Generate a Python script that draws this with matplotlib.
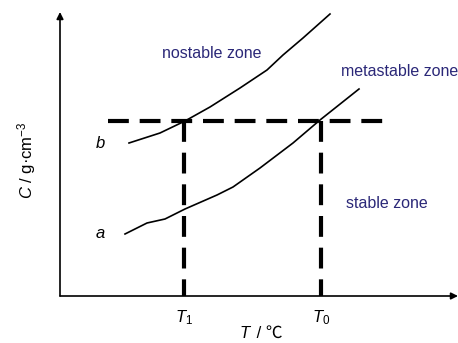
import matplotlib.pyplot as plt

curva_b_x = [129, 160, 185, 210, 240, 267, 283, 303, 330]
curva_b_y = [143, 133, 121, 107, 88, 70, 55, 38, 14]
curva_a_x = [125, 147, 165, 185, 217, 233, 260, 293, 320, 359]
curva_a_y = [234, 223, 219, 209, 195, 187, 168, 143, 120, 89]

c_nivel = 121          # linea horizontal discontinua
t1, t0 = 184, 321      # temperaturas T1 y T0
origen = (60, 296)

etiquetas_zona = ["nostable zone", "metastable zone", "stable zone"]
pos_zona = [(212, 53), (400, 71), (387, 203)]
color_zona = "#2b2878"

plt.rcParams['font.family'] = ['Liberation Sans', 'Noto Sans CJK SC', 'DejaVu Sans']
plt.rcParams['mathtext.fontset'] = 'custom'
plt.rcParams['mathtext.rm'] = 'Liberation Sans'
plt.rcParams['mathtext.it'] = 'Liberation Sans:italic'

fig = plt.figure(figsize=(4.58, 3.43), dpi=100)
ax = fig.add_axes([0, 0, 1, 1])
ax.set_xlim(0, 458)
ax.set_ylim(343, 0)
ax.axis('off')

# ejes con flechas
ax.annotate('', xy=(origen[0], 12), xytext=origen,
            arrowprops=dict(arrowstyle='-|>', color='black', lw=1.2,
                            mutation_scale=10, shrinkA=0, shrinkB=0))
ax.annotate('', xy=(458, origen[1]), xytext=origen,
            arrowprops=dict(arrowstyle='-|>', color='black', lw=1.2,
                            mutation_scale=10, shrinkA=0, shrinkB=0))

# curvas
ax.plot(curva_b_x, curva_b_y, color='black', lw=1.2)
ax.plot(curva_a_x, curva_a_y, color='black', lw=1.2)

# lineas discontinuas
estilo = dict(color='black', lw=3, dashes=(5, 2.6))
ax.plot([108, 384], [c_nivel, c_nivel], **estilo)
ax.plot([t1, t1], [c_nivel, origen[1]], **estilo)
ax.plot([t0, t0], [c_nivel, origen[1]], **estilo)

# textos
for txt, (x, y) in zip(etiquetas_zona, pos_zona):
    ax.text(x, y, txt, color=color_zona, fontsize=11.5, ha='center', va='center')

ax.text(100, 144, 'b', fontsize=12, style='italic', ha='center', va='center')
ax.text(100, 234, 'a', fontsize=12, style='italic', ha='center', va='center')
ax.text(t1, 318, r'$T_1$', fontsize=12, ha='center', va='center')
ax.text(t0, 318, r'$T_0$', fontsize=12, ha='center', va='center')
ax.text(250, 333, 'T', fontsize=12, style='italic', ha='right', va='center')
ax.text(252, 333, ' / ℃', fontsize=12, ha='left', va='center')
ax.text(27, 160, r'$C$ / g·cm$^{-3}$', fontsize=12, rotation=90,
        ha='center', va='center')

fig.savefig('out.png', dpi=100)
